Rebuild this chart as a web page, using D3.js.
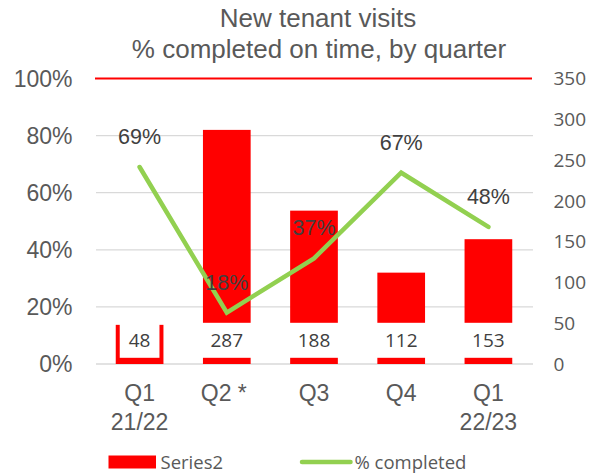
<!DOCTYPE html>
<html>
<head>
<meta charset="utf-8">
<script src="https://cdn.jsdelivr.net/npm/d3@7"></script>
<style>
  body { margin: 0; background: #fff; }
  svg { display: block; }
  .tick-l, .cat-label, .title { font-family: "Liberation Sans", Arial, sans-serif; fill: #595959; }
  .tick-r, .legend-label { font-family: "Open Sans", sans-serif; fill: #595959; }
  .bar-label { font-family: "Open Sans", sans-serif; fill: #404040; }
  .pct-label { font-family: "Liberation Sans", Arial, sans-serif; fill: #404040; }
</style>
</head>
<body>
<div id="chart"></div>
<script>
const categories = [["Q1", "21/22"], ["Q2 *"], ["Q3"], ["Q4"], ["Q1", "22/23"]];
const visits = [48, 287, 188, 112, 153];
const pctCompleted = [0.69, 0.18, 0.37, 0.67, 0.48];
const targetPct = 1.0;
const pctTicks = [0, 0.2, 0.4, 0.6, 0.8, 1.0];
const countTicks = [0, 50, 100, 150, 200, 250, 300, 350];

const W = 592, H = 476;
const plot = { left: 96, right: 532, top: 78.5, bottom: 364 };

const svg = d3.select("#chart").append("svg")
  .attr("width", W)
  .attr("height", H);

const keys = categories.map((c, i) => i);

const x = d3.scaleBand()
  .domain(keys)
  .range([plot.left, plot.right])
  .paddingInner(0.453)
  .paddingOuter(0.2265);

const yPct = d3.scaleLinear().domain([0, 1]).range([plot.bottom, plot.top]);
const yCount = d3.scaleLinear().domain([0, 350]).range([plot.bottom, plot.top]);

// title
const title = svg.append("text")
  .attr("class", "title")
  .attr("text-anchor", "middle")
  .attr("font-size", 26);
title.append("tspan").attr("x", 318).attr("y", 27).text("New tenant visits");
title.append("tspan").attr("x", 319).attr("y", 57.5).text("% completed on time, by quarter");

// gridlines
pctTicks.filter(t => t < 1).forEach(t => {
  svg.append("line")
    .attr("x1", plot.left).attr("x2", plot.right + 1)
    .attr("y1", yPct(t)).attr("y2", yPct(t))
    .attr("stroke", "#d9d9d9")
    .attr("stroke-width", 1.3);
});

// left axis labels
svg.append("g").selectAll("text")
  .data(pctTicks)
  .join("text")
  .attr("class", "tick-l")
  .attr("x", 72.5)
  .attr("y", d => yPct(d))
  .attr("dy", "0.36em")
  .attr("text-anchor", "end")
  .attr("font-size", 23)
  .text(d => d3.format(".0%")(d));

// right axis labels
svg.append("g").selectAll("text")
  .data(countTicks)
  .join("text")
  .attr("class", "tick-r")
  .attr("x", 553.5)
  .attr("y", d => yCount(d))
  .attr("dy", "0.36em")
  .attr("font-size", 19)
  .text(d => d);

// bars
svg.append("g").selectAll("rect")
  .data(visits)
  .join("rect")
  .attr("x", (d, i) => x(i))
  .attr("y", d => yCount(d))
  .attr("width", x.bandwidth())
  .attr("height", d => yCount(0) - yCount(d))
  .attr("fill", "#ff0000");

// 100% target line
svg.append("line")
  .attr("x1", plot.left - 1).attr("x2", plot.right)
  .attr("y1", yPct(targetPct)).attr("y2", yPct(targetPct))
  .attr("stroke", "#ff0000")
  .attr("stroke-width", 2);

// bar labels with white boxes (inside base)
const barLabels = svg.append("g").selectAll("g")
  .data(visits)
  .join("g")
  .attr("transform", (d, i) => `translate(${x(i) + x.bandwidth() / 2},${yCount(0) - 23.7})`);

barLabels.append("text")
  .attr("class", "bar-label")
  .attr("text-anchor", "middle")
  .attr("dy", "0.36em")
  .attr("font-size", 19)
  .text(d => d)
  .each(function () {
    const bb = this.getBBox();
    d3.select(this.parentNode).insert("rect", "text")
      .attr("x", bb.x - 9)
      .attr("y", -17.5)
      .attr("width", bb.width + 18)
      .attr("height", 35)
      .attr("fill", "#fff");
  });

// % completed line
const line = d3.line()
  .x((d, i) => x(i) + x.bandwidth() / 2)
  .y(d => yPct(d));

svg.append("path")
  .datum(pctCompleted)
  .attr("d", line)
  .attr("fill", "none")
  .attr("stroke", "#92d050")
  .attr("stroke-width", 4.5)
  .attr("stroke-linecap", "round")
  .attr("stroke-linejoin", "miter");

svg.append("g").selectAll("text")
  .data(pctCompleted)
  .join("text")
  .attr("class", "pct-label")
  .attr("x", (d, i) => x(i) + x.bandwidth() / 2)
  .attr("y", d => yPct(d) - 23)
  .attr("text-anchor", "middle")
  .attr("font-size", 21.5)
  .text(d => d3.format(".0%")(d));

// category labels
const cats = svg.append("g").selectAll("text")
  .data(categories)
  .join("text")
  .attr("class", "cat-label")
  .attr("text-anchor", "middle")
  .attr("font-size", 23);

cats.selectAll("tspan")
  .data((d, i) => d.map(s => ({ s, i })))
  .join("tspan")
  .attr("x", d => x(d.i) + x.bandwidth() / 2 - (d.s.endsWith("*") ? 3 : 0))
  .attr("y", (d, j) => 400.7 + j * 29.5)
  .text(d => d.s);

// legend
const legY = 462;
svg.append("rect")
  .attr("x", 108.5).attr("y", legY - 6.5)
  .attr("width", 47.5).attr("height", 13)
  .attr("fill", "#ff0000");
svg.append("text")
  .attr("class", "legend-label")
  .attr("x", 160.5).attr("y", legY)
  .attr("dy", "0.36em")
  .attr("font-size", 18.5)
  .text("Series2");

svg.append("line")
  .attr("x1", 302).attr("x2", 350.5)
  .attr("y1", legY).attr("y2", legY)
  .attr("stroke", "#92d050")
  .attr("stroke-width", 4.5)
  .attr("stroke-linecap", "round");
svg.append("text")
  .attr("class", "legend-label")
  .attr("x", 354.5).attr("y", legY)
  .attr("dy", "0.36em")
  .attr("font-size", 18.5)
  .text("% completed");
</script>
</body>
</html>
